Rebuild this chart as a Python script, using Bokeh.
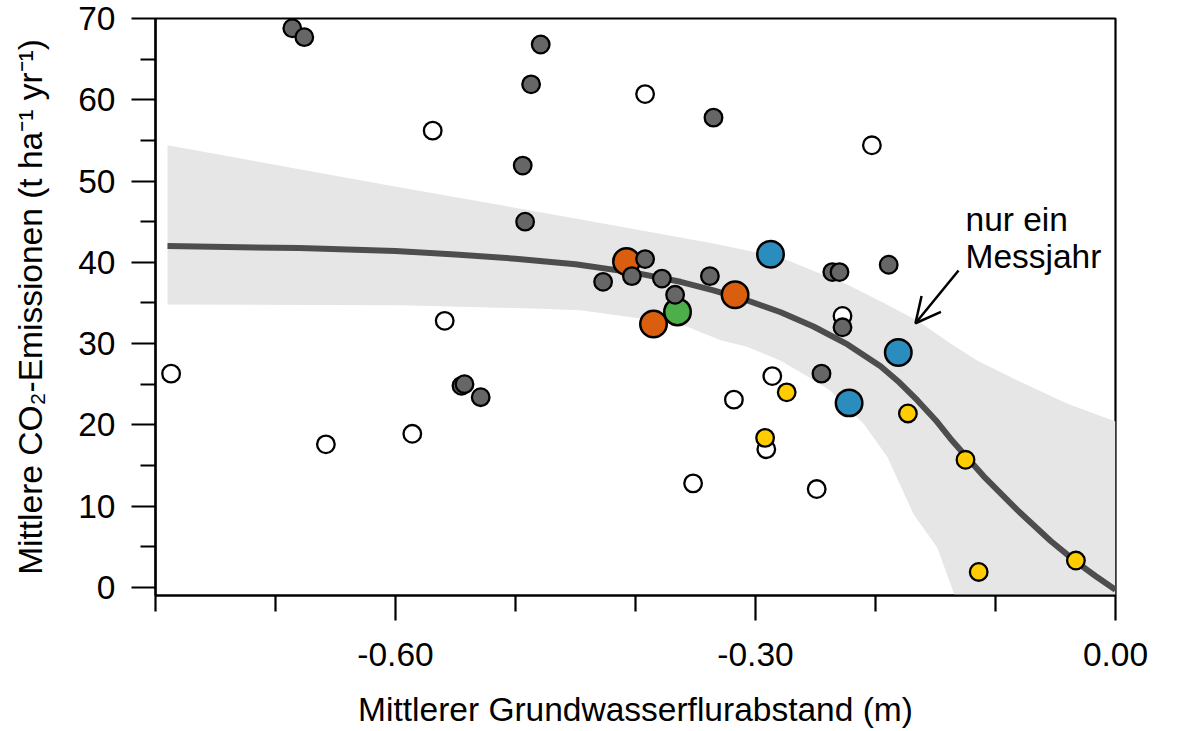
from bokeh.plotting import figure
from bokeh.models import (FixedTicker, PrintfTickFormatter, Label, Arrow, OpenHead, Range1d)
from bokeh.embed import file_html
from bokeh.resources import INLINE

# ---------------- data ----------------
grey_x = [-0.686, -0.676, -0.479, -0.487, -0.335, -0.494, -0.492, -0.392, -0.427,
          -0.403, -0.378, -0.338, -0.367, -0.236, -0.230, -0.189, -0.2275, -0.245,
          -0.545, -0.5425, -0.529]
grey_y = [68.8, 67.7, 66.8, 61.9, 57.8, 51.9, 45.0, 40.4, 37.6,
          38.3, 38.0, 38.3, 36.0, 38.8, 38.8, 39.7, 32.0, 26.3,
          24.8, 25.0, 23.4]

white_x = [-0.787, -0.392, -0.203, -0.569, -0.559, -0.586, -0.658, -0.2275,
           -0.286, -0.318, -0.291, -0.352, -0.249]
white_y = [26.3, 60.7, 54.4, 56.2, 32.8, 18.9, 17.6, 33.4,
           26.0, 23.1, 17.0, 12.8, 12.1]

yellow_x = [-0.274, -0.292, -0.173, -0.125, -0.114, -0.033]
yellow_y = [24.0, 18.4, 21.4, 15.7, 1.9, 3.3]

orange_x = [-0.4075, -0.317, -0.385]
orange_y = [40.1, 36.0, 32.4]

green_x = [-0.365]
green_y = [33.9]

blue_x = [-0.2875, -0.222, -0.181]
blue_y = [41.0, 22.7, 28.9]

# fitted curve
curve_x = [-0.790, -0.680, -0.600, -0.550, -0.500, -0.450, -0.400, -0.3625, -0.335,
           -0.3067, -0.279, -0.2517, -0.2233, -0.1958, -0.180, -0.165, -0.150, -0.1375,
           -0.125, -0.110, -0.0817, -0.054, -0.0325, -0.0167, 0.0]
curve_y = [42.0, 41.75, 41.4, 40.95, 40.45, 39.75, 38.7, 37.6, 36.55,
           35.3, 33.85, 32.1, 29.9, 27.2, 25.2, 23.0, 20.6, 18.3,
           16.2, 13.7, 9.5, 5.7, 3.1, 1.4, -0.3]

# confidence band (upper and lower edges)
band_up_x = [-0.790, -0.596, -0.450, -0.335, -0.279, -0.224, -0.193, -0.165,
             -0.1375, -0.115, -0.082, -0.040, 0.0]
band_up_y = [54.4, 49.2, 45.4, 42.3, 40.6, 37.3, 35.0, 32.8,
             30.0, 27.9, 25.5, 22.6, 20.4]
band_lo_x = [-0.790, -0.596, -0.479, -0.446, -0.3625, -0.329, -0.307, -0.279,
             -0.2514, -0.2375, -0.2097, -0.190, -0.1683, -0.1486, -0.134, 0.0]
band_lo_y = [34.8, 34.7, 34.3, 34.1, 32.4, 30.4, 29.6, 27.9,
             25.5, 24.2, 20.1, 16.0, 9.0, 4.9, -1.0, -1.0]

x_major_ticks = [-0.6, -0.3, 0.0]
x_minor_ticks = [-0.8, -0.7, -0.5, -0.4, -0.2, -0.1]
y_major_ticks = [0, 10, 20, 30, 40, 50, 60, 70]
y_minor_ticks = [5, 15, 25, 35, 45, 55, 65]

FONT = "Liberation Sans"
FS = "33.5px"

p = figure(frame_width=960, frame_height=577,
           min_border_left=155, min_border_right=68, min_border_top=18, min_border_bottom=80,
           x_range=Range1d(-0.8, 0.0), y_range=Range1d(-1.0, 70.0),
           output_backend="svg", toolbar_location=None,
           background_fill_color="white", border_fill_color="white")
p.grid.visible = False
p.outline_line_color = "black"
p.outline_line_width = 2.2
p.outline_line_alpha = 1.0

# band
poly_x = band_up_x + band_lo_x[::-1]
poly_y = band_up_y + band_lo_y[::-1]
p.patch(poly_x, poly_y, fill_color="#E6E6E6", line_color=None)

# curve
p.line(curve_x, curve_y, line_color="#4D4D4D", line_width=6, line_join="round")

SMALL = 17.6
LARGE = 26.5
LW = 2.3

p.scatter(orange_x, orange_y, size=LARGE, fill_color="#D95F0E", line_color="black", line_width=2.5)
p.scatter(green_x, green_y, size=LARGE, fill_color="#4DAF4A", line_color="black", line_width=2.5)
p.scatter(blue_x, blue_y, size=LARGE, fill_color="#2B8CBE", line_color="black", line_width=2.5)
p.scatter(white_x, white_y, size=SMALL, fill_color="white", line_color="black", line_width=LW)
p.scatter(grey_x, grey_y, size=SMALL, fill_color="#666666", line_color="black", line_width=LW)
p.scatter(yellow_x, yellow_y, size=SMALL, fill_color="#FFCC00", line_color="black", line_width=LW)

# annotation
p.add_layout(Label(x=-0.125, y=45.3, text="nur ein", text_font=FONT, text_font_size=FS,
                   text_baseline="alphabetic", text_align="left", text_color="black"))
p.add_layout(Label(x=-0.125, y=40.7, text="Messjahr", text_font=FONT, text_font_size=FS,
                   text_baseline="alphabetic", text_align="left", text_color="black"))
p.add_layout(Arrow(end=OpenHead(size=25, line_width=2.5, line_color="black"),
                   x_start=-0.1308, y_start=39.0, x_end=-0.1667, y_end=32.5,
                   line_width=2.5, line_color="black"))

# axes
for ax in (p.xaxis[0], p.yaxis[0]):
    ax.axis_line_color = "black"
    ax.axis_line_width = 2.2
    ax.major_tick_line_color = "black"
    ax.major_tick_line_width = 2.2
    ax.minor_tick_line_color = "black"
    ax.minor_tick_line_width = 2.2
    ax.major_tick_in = 0
    ax.minor_tick_in = 0
    ax.major_label_text_font = FONT
    ax.major_label_text_font_size = FS
    ax.major_label_text_color = "black"
    ax.axis_label_text_font = FONT
    ax.axis_label_text_font_size = FS
    ax.axis_label_text_font_style = "normal"
    ax.axis_label_text_color = "black"

xa = p.xaxis[0]
xa.ticker = FixedTicker(ticks=x_major_ticks, minor_ticks=x_minor_ticks)
xa.formatter = PrintfTickFormatter(format="%.2f")
xa.major_tick_out = 25
xa.minor_tick_out = 16
xa.major_label_standoff = 22
xa.axis_label = "Mittlerer Grundwasserflurabstand (m)"
xa.axis_label_standoff = 22

ya = p.yaxis[0]
ya.ticker = FixedTicker(ticks=y_major_ticks, minor_ticks=y_minor_ticks)
ya.major_tick_out = 24
ya.minor_tick_out = 15
ya.major_label_standoff = 16
ya.axis_label = "Mittlere CO\u2082-Emissionen (t ha\u207b\u00b9 yr\u207b\u00b9)"
ya.axis_label_standoff = 26

open("out.html", "w").write(file_html(p, INLINE))
